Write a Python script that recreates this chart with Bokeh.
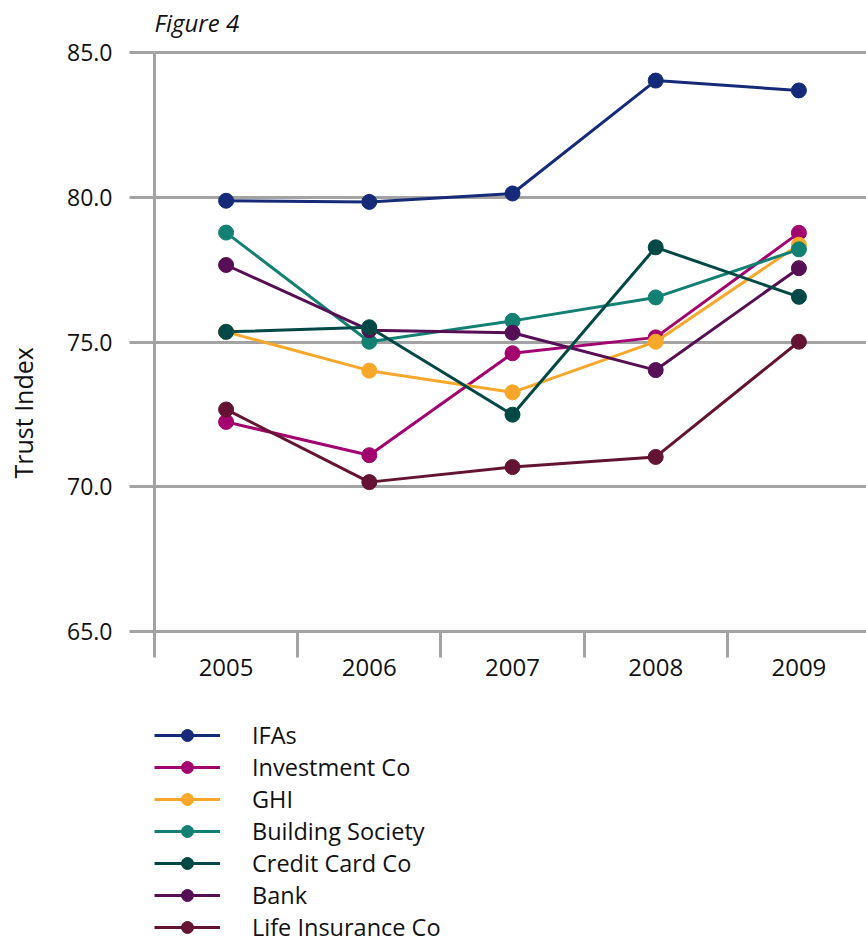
from bokeh.plotting import figure
from bokeh.layouts import column
from bokeh.models import (Range1d, FixedTicker, Legend, LegendItem, Title, Label,
                          ColumnDataSource)
from bokeh.embed import file_html
from bokeh.resources import INLINE

# Trust index by provider type, 2005-2009
years = ["2005", "2006", "2007", "2008", "2009"]
ifas = [79.88, 79.84, 80.13, 84.03, 83.69]
investment_co = [72.24, 71.09, 74.61, 75.16, 78.77]
ghi = [75.35, 74.01, 73.26, 75.01, 78.36]
building_society = [78.78, 75.01, 75.73, 76.54, 78.20]
credit_card_co = [75.35, 75.51, 72.49, 78.27, 76.56]
bank = [77.66, 75.41, 75.32, 74.03, 77.55]
life_insurance_co = [72.67, 70.16, 70.68, 71.03, 75.01]

y_ticks = [65, 70, 75, 80, 85]

series = [
    ("IFAs", ifas, "#152a78"),
    ("Investment Co", investment_co, "#a3036f"),
    ("GHI", ghi, "#f7a82a"),
    ("Building Society", building_society, "#128072"),
    ("Credit Card Co", credit_card_co, "#024846"),
    ("Bank", bank, "#560f55"),
    ("Life Insurance Co", life_insurance_co, "#641432"),
]
draw_order = ["IFAs", "Investment Co", "GHI", "Building Society", "Bank",
              "Credit Card Co", "Life Insurance Co"]

FONT = "Open Sans"
GRAY = "#a3a3a3"
INK = "#111111"

xpos = list(range(len(years)))

# ---- chart ---------------------------------------------------------------
# the frame runs to the top of the canvas so the caption can sit inside it;
# 20 index points span 579 px, the axis itself is bounded to 65..85
PX_PER_POINT = 579 / 20
top_value = 65 + 631 / PX_PER_POINT

p = figure(
    width=866, height=700,
    x_range=Range1d(-0.5, 4.472), y_range=Range1d(65, top_value),
    output_backend="svg", toolbar_location=None,
    min_border_left=154, min_border_right=0,
    min_border_top=0, min_border_bottom=69,
    outline_line_color=None, background_fill_color="white",
)

p.add_layout(Label(x=-0.5, y=85 + 30 / PX_PER_POINT, text="Figure 4",
                   text_font=FONT, text_font_style="italic",
                   text_font_size="24px", text_color=INK,
                   text_align="left", text_baseline="middle"))

# x axis: labels at the years, tick marks between them
p.xaxis.ticker = FixedTicker(ticks=xpos, minor_ticks=[-0.5, 0.5, 1.5, 2.5, 3.5])
p.xaxis.major_label_overrides = {i: y for i, y in zip(xpos, years)}
p.xaxis.major_tick_out = 0
p.xaxis.major_tick_in = 0
p.xaxis.minor_tick_out = 26
p.xaxis.minor_tick_in = 0
p.xaxis.minor_tick_line_color = GRAY
p.xaxis.minor_tick_line_width = 3
p.xaxis.axis_line_color = GRAY
p.xaxis.axis_line_width = 3
p.xaxis.major_label_standoff = 1
p.xaxis.major_label_text_font = FONT
p.xaxis.major_label_text_font_size = "24px"
p.xaxis.major_label_text_color = INK

# y axis
p.yaxis.ticker = FixedTicker(ticks=y_ticks)
p.yaxis.bounds = (65, 85)
p.yaxis.major_label_overrides = {t: f"{t:.1f}" for t in y_ticks}
p.yaxis.major_tick_out = 25
p.yaxis.major_tick_in = 0
p.yaxis.minor_tick_line_color = None
p.yaxis.major_tick_line_color = GRAY
p.yaxis.major_tick_line_width = 3
p.yaxis.axis_line_color = GRAY
p.yaxis.axis_line_width = 3
p.yaxis.major_label_standoff = 17
p.yaxis.major_label_text_font = FONT
p.yaxis.major_label_text_font_size = "23px"
p.yaxis.major_label_text_color = INK
# blank label that widens the axis so the title sits further out
p.yaxis.axis_label = " "
p.yaxis.axis_label_text_font_size = "10px"
p.yaxis.axis_label_standoff = 9

p.add_layout(Title(text="Trust Index", text_font=FONT, text_font_style="normal",
                   text_font_size="25px", text_color=INK, align="left",
                   offset=153, standoff=4), "left")

p.xgrid.visible = False
p.ygrid.ticker = FixedTicker(ticks=y_ticks)
p.ygrid.grid_line_color = GRAY
p.ygrid.grid_line_width = 3

sources = {n: ColumnDataSource(dict(x=xpos, y=v)) for n, v, _ in series}
colors = {n: c for n, _, c in series}

for name in draw_order:
    p.line("x", "y", source=sources[name], line_color=colors[name], line_width=3)
    p.scatter("x", "y", source=sources[name], size=15, fill_color=colors[name],
              line_color=colors[name], line_width=1)

# ---- legend panel ----------------------------------------------------------
lf = figure(
    width=866, height=243, x_range=Range1d(0, 1), y_range=Range1d(0, 1),
    output_backend="svg", toolbar_location=None,
    x_axis_location=None, y_axis_location=None,
    min_border_left=0, min_border_right=0, min_border_top=0, min_border_bottom=0,
    outline_line_color=None, background_fill_color="white",
)
lf.xgrid.visible = False
lf.ygrid.visible = False

items = []
for name, _, color in series:
    ln = lf.line("x", "y", source=sources[name], line_color=color, line_width=3,
                 visible=False)
    sc = lf.scatter("x", "y", source=sources[name], size=15, fill_color=color,
                    line_color=color, line_width=1, visible=False)
    items.append(LegendItem(label=name, renderers=[ln, sc]))

# the legend frame lines up with the chart frame (left edge at 154 px)
legend = Legend(
    items=items, location=(0, 0),
    glyph_width=66, glyph_height=30, label_height=30, spacing=0,
    label_standoff=32, padding=0, margin=0,
    label_text_font=FONT, label_text_font_size="23.5px",
    label_text_color=INK, click_policy="none",
    background_fill_alpha=0, border_line_color=None,
)
lf.add_layout(legend, "center")

layout = column(p, lf, spacing=0)

open("out.html", "w").write(file_html(layout, INLINE))
